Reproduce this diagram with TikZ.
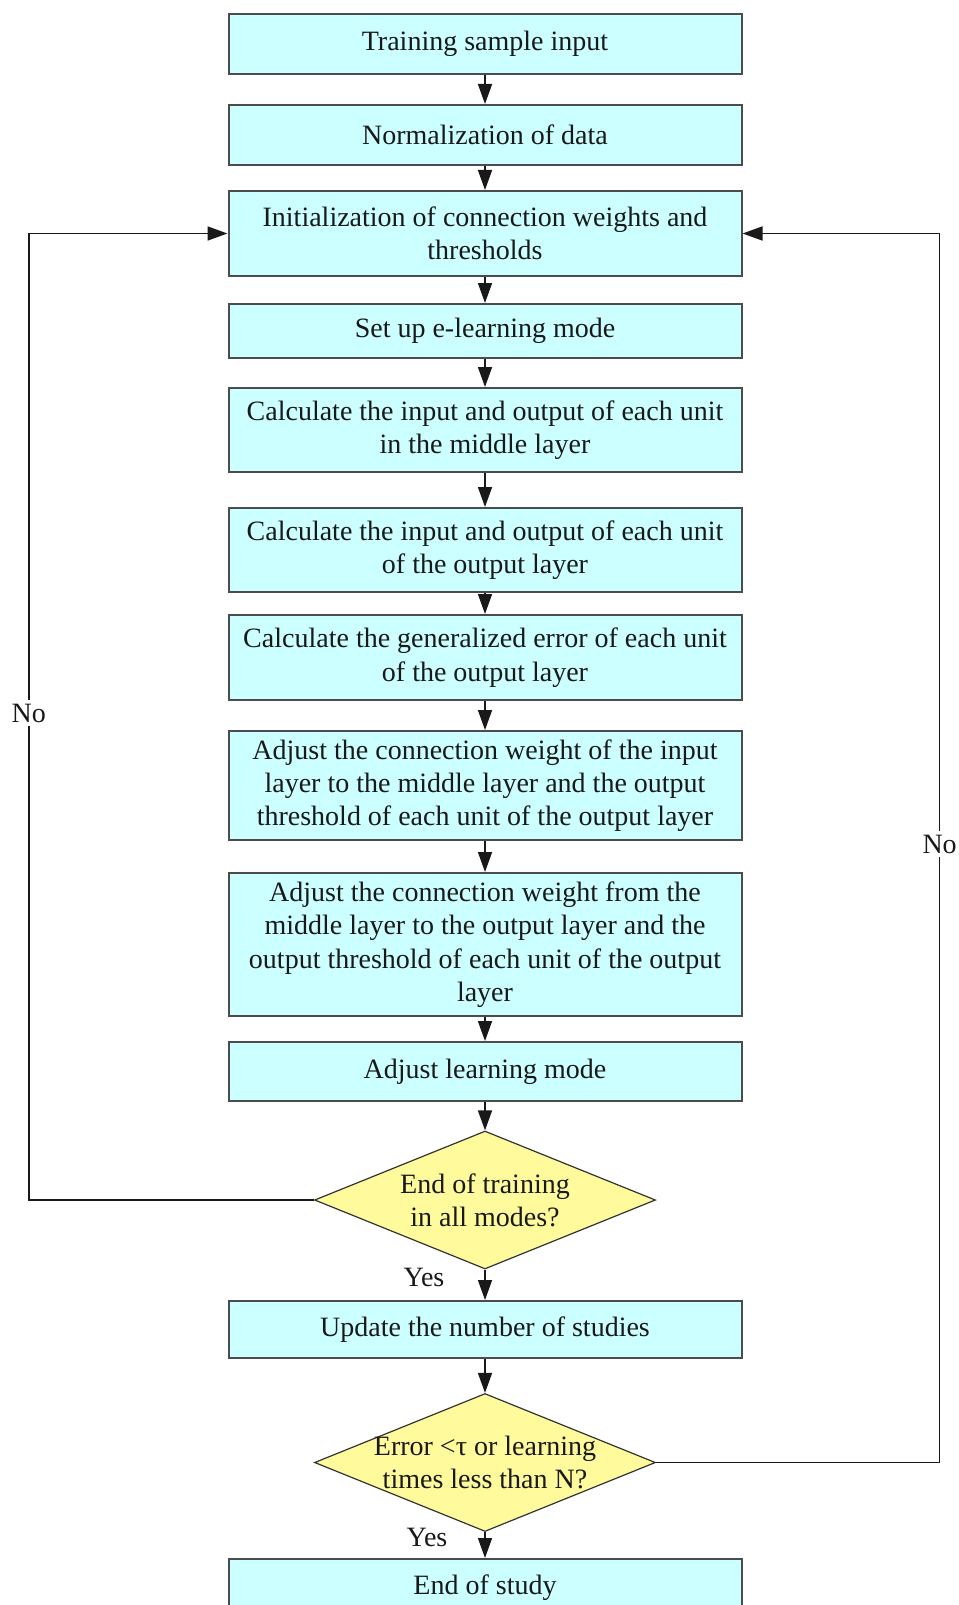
\documentclass[tikz,border=0pt]{standalone}
\usepackage{fontspec}
\setmainfont{Liberation Serif}
\usetikzlibrary{shapes.geometric,arrows.meta}

\definecolor{boxcyan}{RGB}{204,255,255}
\definecolor{decyellow}{RGB}{255,250,155}

\tikzset{every picture/.style={line width=0.75pt}}
\tikzset{
  procbox/.style={draw=black!70, line width=1.5pt, fill=boxcyan, minimum width=384.75pt, inner sep=1pt, align=center, text=black!90, font=\fontsize{21}{25}\selectfont},
  decision/.style={diamond, draw=black!80, line width=0.9pt, fill=decyellow, minimum width=255.75pt, minimum height=103.5pt, inner sep=0pt},
  flow/.style={-{Triangle[length=15pt,width=10.5pt]}, line width=1.2pt, draw=black!90},
  lbl/.style={inner sep=0.75pt, align=center, text=black!90, font=\fontsize{21}{25}\selectfont},
}

\begin{document}
\begin{tikzpicture}[x=0.75pt,y=0.75pt,yscale=-1,xscale=1]
	\useasboundingbox (0,0) rectangle (959,1605);
	
	%Shape: Rectangle
	\node[procbox, minimum height=45pt] (input) at (485,44) {Training sample input};
	%Shape: Rectangle
	\node[procbox, minimum height=45pt] (norm) at (485,135) {Normalization of data};
	%Shape: Rectangle
	\node[procbox, minimum height=63.75pt] (init) at (485,233.5) {Initialization of connection weights and\\thresholds};
	%Shape: Rectangle
	\node[procbox, minimum height=40.5pt] (mode) at (485,331) {Set up e-learning mode};
	%Shape: Rectangle
	\node[procbox, minimum height=63pt] (midcalc) at (485,430) {Calculate the input and output of each unit\\in the middle layer};
	%Shape: Rectangle
	\node[procbox, minimum height=63pt] (outcalc) at (485,550) {Calculate the input and output of each unit\\of the output layer};
	%Shape: Rectangle
	\node[procbox, minimum height=63.75pt] (errcalc) at (485,657.5) {Calculate the generalized error of each unit\\of the output layer};
	%Shape: Rectangle
	\node[procbox, minimum height=81.75pt] (adjin) at (485,785.5) {Adjust the connection weight of the input\\layer to the middle layer and the output\\threshold of each unit of the output layer};
	%Shape: Rectangle
	\node[procbox, minimum height=107.25pt] (adjmid) at (485,944.5) {Adjust the connection weight from the\\middle layer to the output layer and the\\output threshold of each unit of the output\\layer};
	%Shape: Rectangle
	\node[procbox, minimum height=44.25pt] (adjmode) at (485,1071.5) {Adjust learning mode};
	%Shape: Diamond
	\node[decision] (endtrain) at (485,1200) {};
	%Shape: Rectangle
	\node[procbox, minimum height=42.75pt] (update) at (485,1329.5) {Update the number of studies};
	%Shape: Diamond
	\node[decision] (errchk) at (485,1462.5) {};
	%Shape: Rectangle
	\node[procbox, minimum height=43.5pt] (endstudy) at (485,1588) {End of study};
	
	% Text Node
	\node[lbl] (endtraintxt) at (endtrain) {End of training\\in all modes?};
	% Text Node
	\node[lbl] (errchktxt) at (errchk) {Error <τ or learning\\times less than N?};
	% Text Node
	\node[lbl] (yesone) at (424,1277) {Yes};
	% Text Node
	\node[lbl] (yestwo) at (427,1537) {Yes};
	
	%Straight Lines
	\draw[flow] (input) -- (norm);
	\draw[flow] (norm) -- (init);
	\draw[flow] (init) -- (mode);
	\draw[flow] (mode) -- (midcalc);
	\draw[flow] (midcalc) -- (outcalc);
	\draw[flow] (outcalc) -- (errcalc);
	\draw[flow] (errcalc) -- (adjin);
	\draw[flow] (adjin) -- (adjmid);
	\draw[flow] (adjmid) -- (adjmode);
	\draw[flow] (adjmode) -- (endtrain);
	\draw[flow] (endtrain) -- (update);
	\draw[flow] (update) -- (errchk);
	\draw[flow] (errchk) -- (endstudy);
	
	%Feedback Lines
	\coordinate (lcorner) at (28.7,1200);
	\coordinate (rcorner) at (939.6,1462.5);
	\draw[flow] (endtrain.west) -- (lcorner) |- (init.west);
	\draw[flow] (errchk.east) -- (rcorner) |- (init.east);
	
	% Text Node
	\node[lbl, fill=white, inner sep=3pt] (noleft) at (28.7,713) {No};
	% Text Node
	\node[lbl, fill=white, inner sep=3pt] (noright) at (939.6,844) {No};
	
\end{tikzpicture}
\end{document}
